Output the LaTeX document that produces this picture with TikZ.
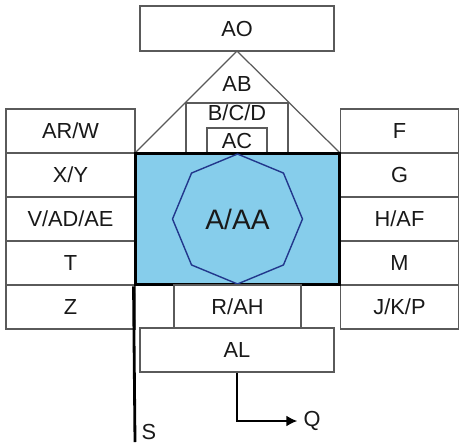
\documentclass[tikz,border=0pt]{standalone}
\usepackage{fontspec}
\setmainfont{Liberation Sans}
\usetikzlibrary{arrows.meta,shapes.geometric}

\definecolor{boxgray}{HTML}{5A5A5A}
\definecolor{coreblue}{HTML}{86CDEB}
\definecolor{octblue}{HTML}{22378C}

\begin{document}
\begin{tikzpicture}[
  x=0.02cm, y=-0.02cm,
  font=\fontsize{12.4}{14}\selectfont, text=black!90,
  box/.style={draw=boxgray, line width=0.7pt, fill=white, inner sep=0pt,
              minimum height=0.88cm, align=center},
  lcol/.style={box, minimum width=2.58cm},
  rcol/.style={box, minimum width=2.36cm},
  wide/.style={box, minimum width=3.88cm},
  ar/.style={-{Latex[length=2.2mm,width=2.2mm]}, line width=1.1pt}]

\useasboundingbox (0,0) rectangle (463,443);

\def\lx{70.5}   % left  column centre
\def\rx{399.5}  % right column centre

% roof
\coordinate (apex)  at (237,51);
\coordinate (eaveL) at (135,153);
\coordinate (eaveR) at (340,153);
\draw[boxgray, line width=0.7pt] (eaveL) -- (apex) -- (eaveR);

\node[wide, minimum height=0.9cm] (ao) at (237,28.5) {AO};
\node (ab) at (237,84) {AB};
\node[box, minimum width=2.04cm, minimum height=1cm] (bcd) at (237,128) {};
\node[anchor=north, inner sep=1.2pt] (bcdl) at (bcd.north) {B/C/D};
\node[box, minimum width=1.2cm, minimum height=0.5cm] (ac) at (237,140.5) {AC};

% left column, top-down
\node[lcol] (arw) at (\lx,131) {AR/W};
\node[lcol] (xy)  at (\lx,175) {X/Y};
\node[lcol] (vad) at (\lx,219) {V/AD/AE};
\node[lcol] (t)   at (\lx,263) {T};
\node[lcol] (z)   at (\lx,307) {Z};

% right column
\node[rcol] (f)   at (\rx,131) {F};
\node[rcol] (g)   at (\rx,175) {G};
\node[rcol] (haf) at (\rx,219) {H/AF};
\node[rcol] (m)   at (\rx,263) {M};
\node[rcol] (jkp) at (\rx,307) {J/K/P};

% core
\node[draw=black, line width=1.7pt, fill=coreblue, minimum width=4.1cm,
      minimum height=2.64cm, inner sep=0pt] (core) at (237.5,219) {};
\node[regular polygon, regular polygon sides=8, shape border rotate=22.5,
      draw=octblue, line width=0.8pt, minimum size=2.6cm, inner sep=0pt,
      font=\fontsize{16}{18}\selectfont] (aaa) at (core) {A/AA};

% below the core
\node[box, minimum width=2.54cm, minimum height=0.86cm] (rah) at (237.5,306.5) {R/AH};
\node[wide] (al) at (237,350) {AL};

\coordinate (sEnd) at (135,442);
\draw[line width=1.6pt] (core.south west) -- (sEnd);
\node (s) at (149,432) {S};

\node (q) at (312,421) {Q};
\draw[ar] (al.south) |- (q.west);
\end{tikzpicture}
\end{document}
